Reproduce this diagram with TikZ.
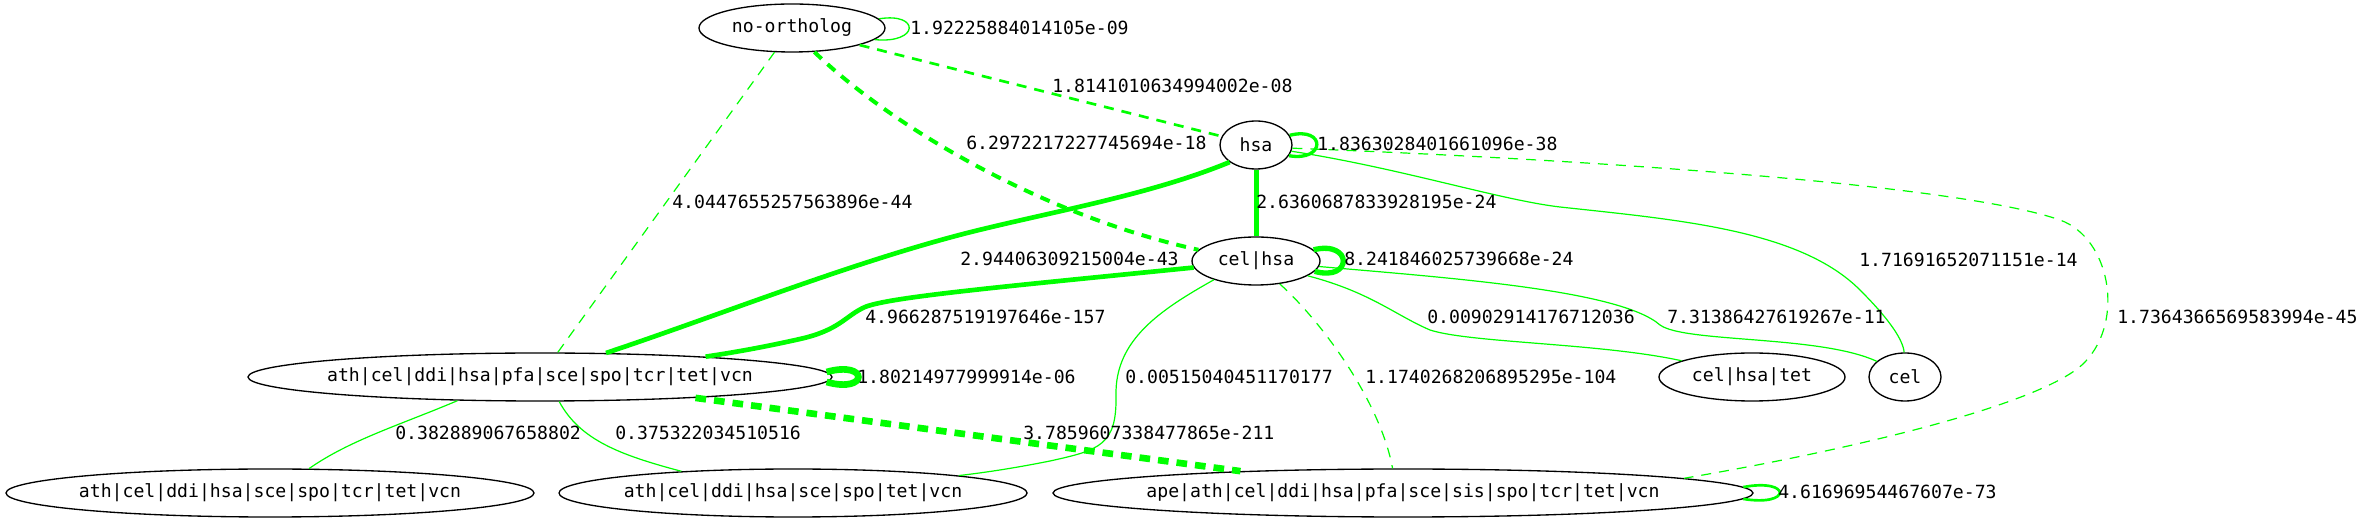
\documentclass[tikz,border=0pt]{standalone}
\usepackage{fontspec}
\newfontfamily\gmono{DejaVu Sans Mono}
\newcommand{\grfont}{\gmono\fontsize{13.6pt}{16pt}\selectfont}
\usetikzlibrary{shapes.geometric}
\definecolor{eg}{RGB}{0,255,0}
\begin{document}
\begin{tikzpicture}[x=0.75pt,y=-0.75pt,
  nd/.style={draw=black, line width=1pt, ellipse, minimum height=36pt, inner sep=0pt, font=\grfont},
  lb/.style={anchor=west, inner sep=0pt, font=\grfont},
  ed/.style={draw=eg, line width=0.9pt},
  dsh/.style={dash pattern=on 7.5pt off 6pt}]
\fill[white] (0,0) rectangle (2364,523);
\useasboundingbox (0,0) rectangle (2364,523);

% nodes
\node[nd, minimum width=139.5pt] (n0) at (792,28)  {\makebox[0pt]{no-ortholog}};
\node[nd, minimum width=54pt]    (n1) at (1256,145) {\makebox[0pt]{hsa}};
\node[nd, minimum width=96pt]    (n2) at (1256,261) {\makebox[0pt]{cel|hsa}};
\node[nd, minimum width=438pt]   (n3) at (540,377)  {\makebox[0pt]{ath|cel|ddi|hsa|pfa|sce|spo|tcr|tet|vcn}};
\node[nd, minimum width=139.5pt] (n4) at (1752,377) {\makebox[0pt]{cel|hsa|tet}};
\node[nd, minimum width=54pt]    (n5) at (1905,377) {\makebox[0pt]{cel}};
\node[nd, minimum width=396pt]   (n6) at (270,493)  {\makebox[0pt]{ath|cel|ddi|hsa|sce|spo|tcr|tet|vcn}};
\node[nd, minimum width=351pt]   (n7) at (793,493)  {\makebox[0pt]{ath|cel|ddi|hsa|sce|spo|tet|vcn}};
\node[nd, minimum width=525pt]   (n8) at (1403,493) {\makebox[0pt]{ape|ath|cel|ddi|hsa|pfa|sce|sis|spo|tcr|tet|vcn}};

% edges
\draw[ed, line width=1pt] (n0.6) .. controls (920,12) and (920,44) .. (n0.-8);
\draw[ed, dsh, line width=2pt] (n0) -- (n1);
\draw[ed, dsh, line width=3pt] (n0.-47) .. controls (890,125) and (1040,215) .. (n2.169);
\draw[ed, dsh] (n0) -- (n3);

\draw[ed, line width=2.5pt] (n1.16) .. controls (1326,126) and (1326,162) .. (n1.-18);
\draw[ed, line width=3.75pt] (n1) -- (n2);
\draw[ed, line width=3.5pt] (n1.213) .. controls (1150,195) and (1050,212) .. (967,233)
   .. controls (850,263) and (720,315) .. (n3.20);
\draw[ed] (n1.-10) .. controls (1400,168) and (1500,200) .. (1560,207)
   .. controls (1680,220) and (1800,230) .. (1860,290)
   .. controls (1890,320) and (1903,340) .. (n5.92);
\draw[ed, dsh] (n1.-5) .. controls (1600,160) and (1960,185) .. (2060,220)
   .. controls (2110,238) and (2125,320) .. (2085,362)
   .. controls (2045,404) and (1850,450) .. (n8.3.6);

\draw[ed, line width=4pt] (n2.11) .. controls (1353,240) and (1353,282) .. (n2.-10);
\draw[ed, line width=3.5pt] (n2.186) .. controls (1000,287) and (890,297) .. (865,307)
   .. controls (845,316) and (840,330) .. (800,339)
   .. controls (760,348) and (730,353) .. (n3.7);
\draw[ed] (n2.-16) .. controls (1370,292) and (1395,315) .. (1430,330)
   .. controls (1470,343) and (1600,343) .. (n4.167);
\draw[ed] (n2.-5) .. controls (1450,278) and (1620,290) .. (1660,325)
   .. controls (1685,343) and (1820,335) .. (n5.151);
\draw[ed] (n2.204) .. controls (1160,310) and (1115,340) .. (1116,395)
   .. controls (1117,445) and (1100,450) .. (1050,461)
   .. controls (1020,467) and (990,472) .. (n7.6);
\draw[ed, dsh] (n2.-44) .. controls (1320,320) and (1380,400) .. (n8.113);

\draw[ed, line width=5pt] (n3.1.9) .. controls (869,360) and (869,394) .. (n3.-1.9);
\draw[ed] (n3.196) .. controls (400,425) and (350,440) .. (n6.32);
\draw[ed] (n3.-52) .. controls (580,440) and (620,455) .. (n7.169);
\draw[ed, line width=5pt, dash pattern=on 8pt off 6pt] (n3) -- (n8);

\draw[ed, line width=2pt] (n8.1.4) .. controls (1792,478) and (1792,507) .. (n8.-1.2);

% labels
\node[lb] (l1)  at (910,28)   {1.92225884014105e-09};
\node[lb] (l2)  at (1052,86)  {1.8141010634994002e-08};
\node[lb] (l3)  at (966,143)  {6.2972217227745694e-18};
\node[lb] (l4)  at (1317,144) {1.8363028401661096e-38};
\node[lb] (l5)  at (672,202)  {4.0447655257563896e-44};
\node[lb] (l6)  at (1256,202) {2.6360687833928195e-24};
\node[lb] (l7)  at (960,259)  {2.94406309215004e-43};
\node[lb] (l8)  at (1344,259) {8.241846025739668e-24};
\node[lb] (l9)  at (1859,260) {1.71691652071151e-14};
\node[lb] (l10) at (865,317)  {4.966287519197646e-157};
\node[lb] (l11) at (1427,317) {0.00902914176712036};
\node[lb] (l12) at (1667,317) {7.31386427619267e-11};
\node[lb] (l13) at (2117,317) {1.7364366569583994e-45};
\node[lb] (l14) at (857,377)  {1.80214977999914e-06};
\node[lb] (l15) at (1125,377) {0.00515040451170177};
\node[lb] (l16) at (1365,377) {1.1740268206895295e-104};
\node[lb] (l17) at (395,433)  {0.382889067658802};
\node[lb] (l18) at (615,433)  {0.375322034510516};
\node[lb] (l19) at (1023,433) {3.7859607338477865e-211};
\node[lb] (l20) at (1778,492) {4.61696954467607e-73};
\end{tikzpicture}
\end{document}
